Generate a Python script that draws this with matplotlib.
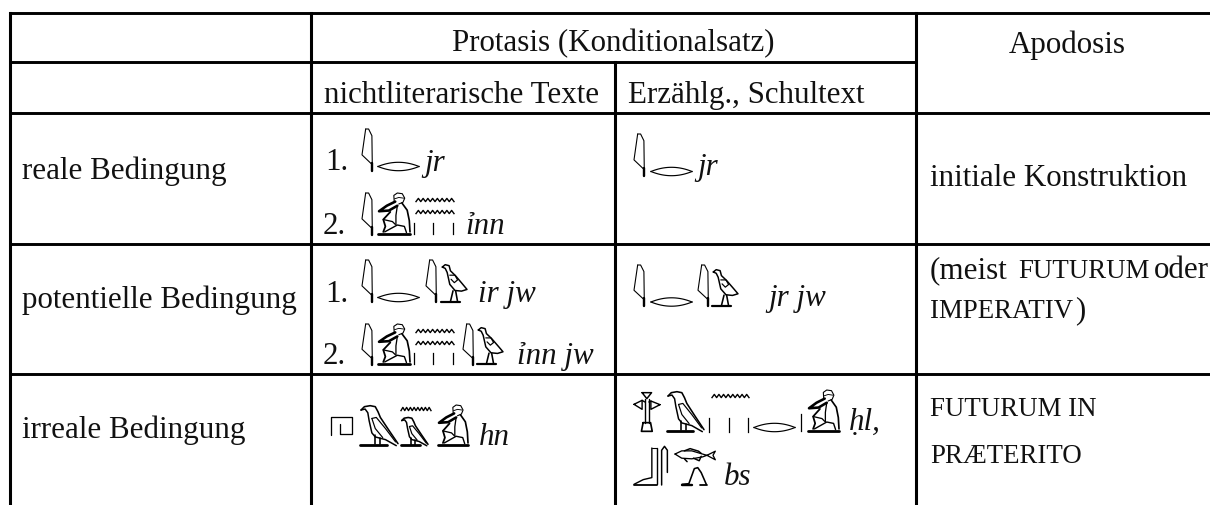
import matplotlib
matplotlib.use("Agg")
import matplotlib.pyplot as plt
import numpy as np

SERIF = ["Liberation Serif", "DejaVu Serif"]
MAIN = 22.3
SMALL = 19.4
INK = "#111111"

# table grid, pixel positions
col_lines = [9.5, 311, 615, 916]
row_lines = [12.5, 62, 113, 244, 374]

# plain labels: text, x, baseline
labels = [
    ("Protasis (Konditionalsatz)", 452, 51),
    ("Apodosis", 1009, 53),
    ("nichtliterarische Texte", 324, 103),
    ("Erzählg., Schultext", 628, 103),
    ("reale Bedingung", 22, 179),
    ("potentielle Bedingung", 22, 308),
    ("irreale Bedingung", 22, 438),
    ("initiale Konstruktion", 930, 186),
    ("(meist", 930, 278),
    ("oder", 1154, 278),
    (")", 1075, 318),
    ("1.", 325, 170.5),
    ("2.", 323, 234),
    ("1.", 325, 302),
    ("2.", 323, 364),
]
small_labels = [
    ("FUTURUM", 1018, 278),
    ("IMPERATIV", 930, 318),
    ("FUTURUM IN", 930, 416),
    ("PRÆTERITO", 930, 463),
]
italic_labels = [
    ("jr", 424, 170.5),
    ("ỉnn", 465, 234),
    ("jr", 697, 175),
    ("ir jw", 478, 302),
    ("ỉnn jw", 517, 364),
    ("jr jw", 768, 306),
    ("hn", 479, 445),
    ("ḥl,", 849, 430),
    ("bs", 724, 485),
]

# glyph outlines, traced in zoomed reference coordinates: (line width, points)
REED = ((22, 15, 52, 140), [
    (1.1, [(32, 15), (22, 92), (47, 118)]),
    (1.1, [(32, 15), (40, 15), (49, 35), (50, 118)]),
    (2.4, [(48, 115), (48, 140)]),
])
SEATED_MAN = ((337, 15, 428, 137), [
    (1.1, [(383, 38), (382, 22), (392, 15), (406, 17), (413, 30), (408, 42), (396, 47)]),
    (0.9, [(384, 32), (396, 28), (410, 30)]),
    (2.6, [(386, 40), (362, 52), (340, 68), (368, 66), (392, 52)]),
    (1.7, [(405, 44), (420, 65), (426, 95), (428, 128)]),
    (1.3, [(392, 52), (388, 80), (388, 108)]),
    (1.8, [(372, 70), (352, 92), (358, 112), (352, 128)]),
    (1.3, [(352, 92), (378, 98), (386, 106)]),
    (1.4, [(356, 128), (392, 108), (412, 112), (418, 130)]),
    (2.8, [(337, 134), (428, 134)]),
])
VULTURE = ((105, 15, 217, 137), [
    (1.6, [(108, 30), (118, 20), (135, 17), (150, 20), (158, 35), (165, 52), (190, 90), (217, 130)]),
    (1.5, [(108, 30), (120, 27), (128, 38), (132, 62), (140, 98), (150, 110), (180, 118), (212, 136)]),
    (1.2, [(140, 55), (153, 52), (180, 85), (210, 125)]),
    (1.2, [(140, 55), (150, 85), (172, 112)]),
    (1.6, [(148, 105), (148, 132)]),
    (1.6, [(163, 112), (163, 132)]),
    (2.8, [(105, 134), (185, 134)]),
])
CHICK = ((255, 25, 335, 140), [
    (1.5, [(259, 34), (268, 27), (280, 30), (284, 45), (300, 60), (322, 85), (335, 100), (318, 105), (298, 103), (282, 85), (274, 50), (268, 38), (259, 34)]),
    (1.2, [(282, 58), (298, 58), (306, 72), (296, 80), (286, 70)]),
    (1.6, [(292, 104), (284, 136)]),
    (1.6, [(300, 104), (306, 136)]),
    (2.2, [(255, 138), (312, 138)]),
])
SQUARE = ((15, 47, 87, 103), [
    (1.3, [(17, 102), (17, 49), (85, 49), (85, 101), (47, 101), (47, 72)]),
])
LOTUS = ((28, 20, 105, 140), [
    (1.5, [(52, 22), (80, 22), (66, 40), (52, 22)]),
    (1.4, [(28, 57), (52, 45), (52, 72), (28, 57)]),
    (1.4, [(105, 58), (78, 47), (78, 72), (105, 58)]),
    (1.4, [(60, 40), (60, 112)]),
    (1.4, [(72, 40), (72, 112)]),
    (1.4, [(52, 45), (60, 50)]),
    (1.4, [(78, 47), (72, 50)]),
    (1.7, [(55, 112), (77, 112), (82, 138), (50, 138), (55, 112)]),
])
FOOT = ((28, 190, 95, 300), [
    (1.4, [(80, 190), (80, 278), (55, 284), (28, 298)]),
    (1.4, [(95, 190), (95, 298)]),
    (1.1, [(80, 190), (95, 190)]),
    (1.8, [(28, 299), (95, 299)]),
])
HOOK = ((108, 182, 130, 300), [
    (1.5, [(110, 300), (110, 195), (119, 183), (128, 195), (128, 262)]),
])
FISH = ((150, 188, 272, 232), [
    (1.3, [(150, 207), (170, 197), (200, 197), (232, 207), (245, 211), (232, 216), (200, 222), (170, 220), (150, 207)]),
    (1.3, [(245, 211), (270, 198), (263, 211), (270, 225), (245, 211)]),
    (1.5, [(178, 197), (195, 190), (220, 198), (228, 205)]),
    (1.5, [(178, 222), (186, 231)]),
    (1.5, [(205, 220), (222, 228), (228, 214)]),
])
LEG = ((172, 245, 245, 300), [
    (1.6, [(172, 298), (192, 296), (208, 250), (218, 247), (228, 262), (243, 298)]),
    (2.4, [(172, 299), (200, 299)]),
    (1.8, [(226, 299), (245, 299)]),
])

# glyph placement: glyph, left, top, right, bottom
glyphs = [
    (REED, 362, 129, 373, 171), (REED, 362, 193, 373, 235), (SEATED_MAN, 378, 193, 410, 235),
    (REED, 634, 134, 645, 176),
    (REED, 362, 260, 373, 302), (REED, 426, 260, 437, 302), (CHICK, 441, 264, 467, 303),
    (REED, 362, 324, 373, 365), (SEATED_MAN, 378, 324, 410, 365), (REED, 463, 324, 474, 365), (CHICK, 477, 327, 503, 365),
    (REED, 634, 265, 645, 306), (REED, 698, 265, 709, 306), (CHICK, 712, 269, 738, 307),
    (SQUARE, 330, 416, 353, 435), (VULTURE, 360, 405, 398, 446), (VULTURE, 401, 417, 428, 446), (SEATED_MAN, 438, 405, 468, 446),
    (LOTUS, 634, 392, 660, 432), (VULTURE, 667, 391, 704, 432), (SEATED_MAN, 808, 390, 839, 432),
    (FOOT, 634, 448, 657, 485), (HOOK, 661, 446, 668, 485), (FISH, 675, 448, 716, 462), (LEG, 682, 467, 707, 485),
]
# mouth signs: left, right, centre y
mouths = [(378, 419, 166.5), (651, 692, 171.5), (378, 419, 297.5), (651, 692, 302), (754, 795, 427.5)]
# water ripples: left, right, centre y
ripples = [(416, 454, 200), (416, 454, 212), (416, 454, 331), (416, 454, 343), (401, 431, 409), (712, 749, 396)]
# small vertical strokes: x, top, bottom
strokes = [
    (414, 223, 234), (433, 223, 234), (453, 223, 234),
    (414, 353, 364), (433, 353, 364), (453, 353, 364),
    (709, 418, 432), (729, 418, 432), (748, 418, 432),
    (801, 414, 431),
]
RIPPLE_TEETH = 8


def draw_glyph(ax, glyph, left, top, right, bottom):
    (x0, y0, x1, y1), parts = glyph
    for lw, pts in parts:
        pts = np.array(pts, dtype=float)
        px = left + (pts[:, 0] - x0) / (x1 - x0) * (right - left)
        py = top + (pts[:, 1] - y0) / (y1 - y0) * (bottom - top)
        ax.plot(px, py, color="black", lw=lw * 0.72, solid_joinstyle="round", solid_capstyle="round")


def draw_mouth(ax, left, right, cy):
    t = np.linspace(-1, 1, 40)
    x = (left + right) / 2 + t * (right - left) / 2
    h = 4.2 * (1 - t ** 2)
    ax.plot(x, cy - h, color="black", lw=0.85)
    ax.plot(x, cy + h, color="black", lw=0.85)


def draw_ripple(ax, left, right, cy):
    x = np.linspace(left, right, RIPPLE_TEETH * 2 + 1)
    y = cy + np.where(np.arange(x.size) % 2 == 0, 1.6, -1.6)
    ax.plot(x, y, color="black", lw=1.0)


fig = plt.figure(figsize=(12.1, 5.05), dpi=100)
ax = fig.add_axes([0, 0, 1, 1])
ax.set_xlim(0, 1210)
ax.set_ylim(505, 0)
ax.axis("off")

# rules; merged cells leave gaps
ax.plot([col_lines[0], 1210], [row_lines[0]] * 2, color="black", lw=2.1)
ax.plot([col_lines[0], col_lines[3]], [row_lines[1]] * 2, color="black", lw=2.1)
ax.plot([col_lines[0], 1210], [row_lines[2]] * 2, color="black", lw=2.1)
ax.plot([col_lines[0], 1210], [row_lines[3]] * 2, color="black", lw=2.1)
ax.plot([col_lines[0], 1210], [row_lines[4]] * 2, color="black", lw=2.1)
ax.plot([col_lines[0]] * 2, [row_lines[0], 505], color="black", lw=2.2)
ax.plot([col_lines[1]] * 2, [row_lines[0], 505], color="black", lw=2.2)
ax.plot([col_lines[2]] * 2, [row_lines[1], 505], color="black", lw=2.2)
ax.plot([col_lines[3]] * 2, [row_lines[0], 505], color="black", lw=2.2)

for s, x, y in labels:
    ax.text(x, y, s, family=SERIF, fontsize=MAIN, color=INK, va="baseline")
for s, x, y in small_labels:
    ax.text(x, y, s, family=SERIF, fontsize=SMALL, color=INK, va="baseline")
for s, x, y in italic_labels:
    ax.text(x, y, s, family=SERIF, fontsize=MAIN, style="italic", color=INK, va="baseline")

for g in glyphs:
    draw_glyph(ax, *g)
for m in mouths:
    draw_mouth(ax, *m)
for r in ripples:
    draw_ripple(ax, *r)
for x, top, bottom in strokes:
    ax.plot([x, x], [top, bottom], color="black", lw=0.9)

fig.savefig("out.png", dpi=100)
